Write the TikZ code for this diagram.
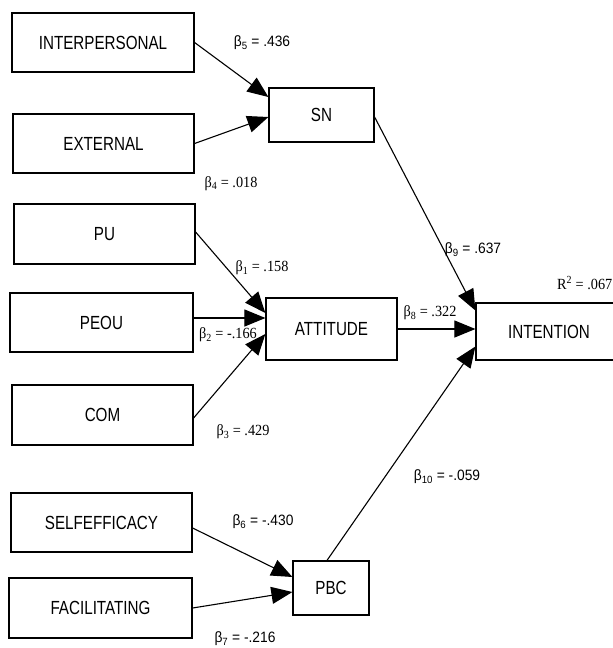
\documentclass[tikz,border=0pt]{standalone}
\usepackage{fontspec}
\setmainfont{Liberation Sans}
\newfontfamily\serifb{Liberation Serif}
\usetikzlibrary{arrows.meta}
\newcommand\bxlabel[1]{\scalebox{0.8}[1]{#1}}
\newcommand\cflabel[1]{\scalebox{0.92}[1]{#1}}
\begin{document}
\begin{tikzpicture}[x=1pt,y=-1pt,
  box/.style={draw, line width=1.2pt, inner sep=0pt, font=\fontsize{19}{21}\selectfont},
  conn/.style={line width=1.1pt, -{Triangle[length=21pt,width=17pt]}},
  coefs/.style={font=\fontsize{15}{17}\selectfont, inner sep=0pt},
  coefr/.style={font=\serifb\fontsize{15.5}{17}\selectfont, inner sep=0pt}]
\useasboundingbox (0,0) rectangle (613,648);
% boxes
\node[box, minimum width=182pt, minimum height=59pt] (inter) at (103,42.5) {\bxlabel{INTERPERSONAL}};
\node[box, minimum width=181pt, minimum height=59pt] (ext) at (103.5,143.5) {\bxlabel{EXTERNAL}};
\node[box, minimum width=181pt, minimum height=60pt] (pu) at (104.5,234) {\bxlabel{PU}};
\node[box, minimum width=183pt, minimum height=59pt] (peou) at (101.5,322.5) {\bxlabel{PEOU}};
\node[box, minimum width=181pt, minimum height=60pt] (com) at (102.5,415) {\bxlabel{COM}};
\node[box, minimum width=181pt, minimum height=59pt] (self) at (101.5,522.5) {\bxlabel{SELFEFFICACY}};
\node[box, minimum width=183pt, minimum height=60pt] (fac) at (100.5,608) {\bxlabel{FACILITATING}};
\node[box, minimum width=105pt, minimum height=54pt] (sn) at (321.5,115) {\bxlabel{SN}};
\node[box, minimum width=131pt, minimum height=62pt] (att) at (331.5,329) {\bxlabel{ATTITUDE}};
\node[box, minimum width=76pt, minimum height=54pt] (pbc) at (331,588) {\bxlabel{PBC}};
\node[box, minimum width=146pt, minimum height=57pt] (int) at (549,331.5) {\bxlabel{INTENTION}};
% connectors
\draw[conn] (inter.east) -- ([yshift=18pt]sn.west);
\draw[conn] (ext.east) -- ([yshift=-2pt]sn.west);
\draw[conn] ([yshift=2pt]pu.east) -- ([yshift=16pt]att.west);
\draw[conn] ([yshift=4.5pt]peou.east) -- ([yshift=11pt]att.west);
\draw[conn] ([yshift=-3pt]com.east) -- ([yshift=-5pt]att.west);
\draw[conn] ([yshift=-5.5pt]self.east) -- ([yshift=11pt]pbc.west);
\draw[conn] (fac.east) -- ([yshift=-4pt]pbc.west);
\draw[conn] ([yshift=-2pt]sn.east) -- ([yshift=21pt]int.west);
\draw[conn] (att.east) -- (att.east -| int.west);
\draw[conn] ([xshift=-4pt]pbc.north) -- ([yshift=-15pt]int.west);
% coefficients
\node[coefs] (b5) at (262,43) {\cflabel{β\textsubscript{5} = .436}};
\node[coefr] (b4) at (231,184) {\cflabel{β\textsubscript{4} = .018}};
\node[coefr] (b1) at (262,268) {\cflabel{β\textsubscript{1} = .158}};
\node[coefr] (b2) at (228,335) {\cflabel{β\textsubscript{2} = -.166}};
\node[coefr] (b3) at (243,432) {\cflabel{β\textsubscript{3} = .429}};
\node[coefr] (b8) at (430,313) {\cflabel{β\textsubscript{8} = .322}};
\node[coefs] (b9) at (473,250) {\cflabel{β\textsubscript{9} = .637}};
\node[coefr, anchor=west] (r2) at (557,283) {\cflabel{R\textsuperscript{2} = .067}};
\node[coefs] (b10) at (447,477) {\cflabel{β\textsubscript{10} = -.059}};
\node[coefs] (b6) at (263,522) {\cflabel{β\textsubscript{6} = -.430}};
\node[coefs] (b7) at (245,639) {\cflabel{β\textsubscript{7} = -.216}};
\end{tikzpicture}
\end{document}
